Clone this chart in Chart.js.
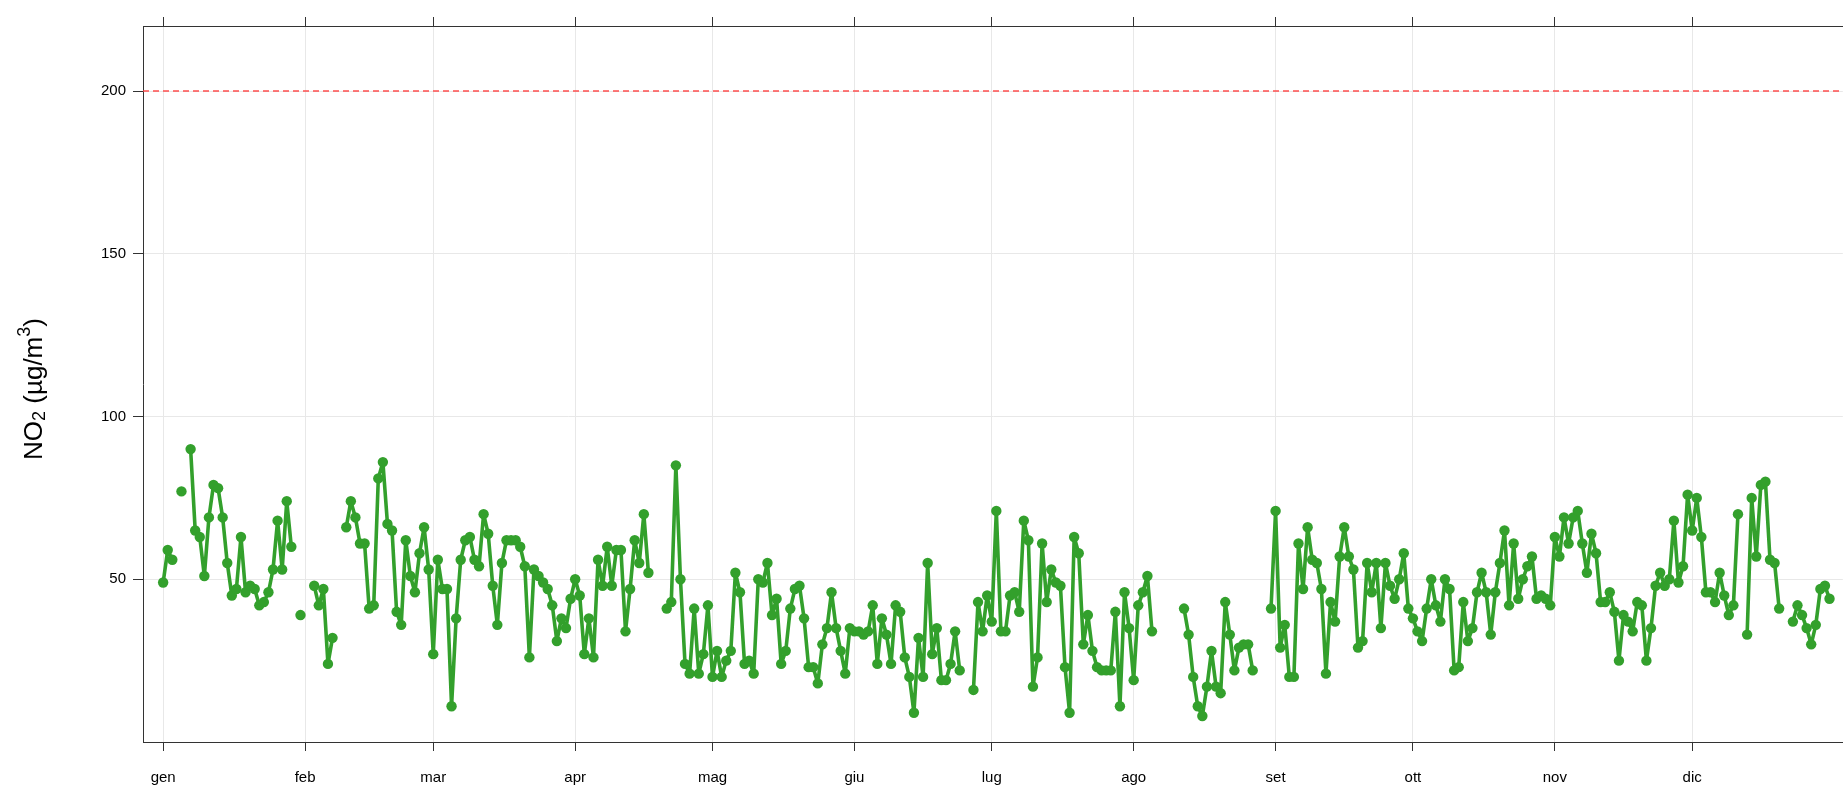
<!DOCTYPE html>
<html lang="it">
<head>
<meta charset="utf-8">
<title>NO2 giornaliero</title>
<script src="https://cdn.jsdelivr.net/npm/chart.js@4/dist/chart.umd.min.js"></script>
<style>
  html, body { margin: 0; padding: 0; background: #fff; }
  .chart-box { position: relative; width: 1848px; height: 792px; }
</style>
</head>
<body>
<div class="chart-box"><canvas id="no2Chart"></canvas></div>
<script>
// daily NO2 means, one array per month (null = missing day)
const gen = [49, 59, 56, null, 77, null, 90, 65, 63, 51, 69, 79, 78, 69, 55, 45, 47, 63, 46, 48, 47, 42, 43, 46, 53, 68, 53, 74, 60, null, 39];
const feb = [null, null, 48, 42, 47, 24, 32, null, null, 66, 74, 69, 61, 61, 41, 42, 81, 86, 67, 65, 40, 36, 62, 51, 46, 58, 66, 53];
const mar = [27, 56, 47, 47, 11, 38, 56, 62, 63, 56, 54, 70, 64, 48, 36, 55, 62, 62, 62, 60, 54, 26, 53, 51, 49, 47, 42, 31, 38, 35, 44];
const apr = [50, 45, 27, 38, 26, 56, 48, 60, 48, 59, 59, 34, 47, 62, 55, 70, 52, null, null, null, 41, 43, 85, 50, 24, 21, 41, 21, 27, 42];
const mag = [20, 28, 20, 25, 28, 52, 46, 24, 25, 21, 50, 49, 55, 39, 44, 24, 28, 41, 47, 48, 38, 23, 23, 18, 30, 35, 46, 35, 28, 21, 35];
const giu = [34, 34, 33, 34, 42, 24, 38, 33, 24, 42, 40, 26, 20, 9, 32, 20, 55, 27, 35, 19, 19, 24, 34, 22, null, null, 16, 43, 34, 45];
const lug = [37, 71, 34, 34, 45, 46, 40, 68, 62, 17, 26, 61, 43, 53, 49, 48, 23, 9, 63, 58, 30, 39, 28, 23, 22, 22, 22, 40, 11, 46, 35];
const ago = [19, 42, 46, 51, 34, null, null, null, null, null, null, 41, 33, 20, 11, 8, 17, 28, 17, 15, 43, 33, 22, 29, 30, 30, 22, null, null, null, 41];
const set = [71, 29, 36, 20, 20, 61, 47, 66, 56, 55, 47, 21, 43, 37, 57, 66, 57, 53, 29, 31, 55, 46, 55, 35, 55, 48, 44, 50, 58, 41];
const ott = [38, 34, 31, 41, 50, 42, 37, 50, 47, 22, 23, 43, 31, 35, 46, 52, 46, 33, 46, 55, 65, 42, 61, 44, 50, 54, 57, 44, 45, 44, 42];
const nov = [63, 57, 69, 61, 69, 71, 61, 52, 64, 58, 43, 43, 46, 40, 25, 39, 37, 34, 43, 42, 25, 35, 48, 52, 48, 50, 68, 49, 54, 76];
const dic = [65, 75, 63, 46, 46, 43, 52, 45, 39, 42, 70, null, 33, 75, 57, 79, 80, 56, 55, 41, null, null, 37, 42, 39, 35, 30, 36, 47, 48, 44];

const months = [gen, feb, mar, apr, mag, giu, lug, ago, set, ott, nov, dic];
const monthLabels = ["gen", "feb", "mar", "apr", "mag", "giu", "lug", "ago", "set", "ott", "nov", "dic"];
const yTicks = [50, 100, 150, 200];
const limitValue = 200;   // soglia oraria NO2

// y title pieces: [text, "base" | "sub" | "sup"]
const yTitleParts = [["NO", "base"], ["2", "sub"], [" (\u00b5g/m", "base"], ["3", "sup"], [")", "base"]];

// day index of first day of each month
const monthStarts = [];
let dayCount = 0;
months.forEach(m => { monthStarts.push(dayCount); dayCount += m.length; });

const points = [].concat(...months).map((v, i) => ({ x: i, y: v }));

const axisColor = "#333333";
const gridColor = "#e8e8e8";
const fontFamily = "'Liberation Sans', Arial, sans-serif";

const monthTicks = (scale) => {
  scale.ticks = monthStarts.map(v => ({ value: v }));
};

// red dashed limit line, placed through the y scale
const limitLine = {
  id: "limitLine",
  beforeDatasetsDraw(chart) {
    const { ctx, chartArea } = chart;
    const y = chart.scales.y.getPixelForValue(limitValue);
    ctx.save();
    ctx.strokeStyle = "rgba(255,60,60,0.9)";
    ctx.lineWidth = 1.5;
    ctx.setLineDash([6, 4]);
    ctx.beginPath();
    ctx.moveTo(chartArea.left, y);
    ctx.lineTo(chartArea.right, y);
    ctx.stroke();
    ctx.restore();
  }
};

// rotated y title with real subscript / superscript
const yTitle = {
  id: "yTitle",
  afterDraw(chart) {
    const { ctx, chartArea } = chart;
    const big = "26px " + fontFamily;
    const small = "18px " + fontFamily;
    ctx.save();
    let total = 0;
    yTitleParts.forEach(([t, k]) => {
      ctx.font = k === "base" ? big : small;
      total += ctx.measureText(t).width;
    });
    ctx.translate(35, (chartArea.top + chartArea.bottom) / 2 + 5);
    ctx.rotate(-Math.PI / 2);
    ctx.fillStyle = "#000";
    ctx.textBaseline = "middle";
    let x = -total / 2;
    yTitleParts.forEach(([t, k]) => {
      ctx.font = k === "base" ? big : small;
      const dy = k === "sub" ? 5 : (k === "sup" ? -10 : 0);
      ctx.fillText(t, x, dy);
      x += ctx.measureText(t).width;
    });
    ctx.restore();
  }
};

new Chart(document.getElementById("no2Chart"), {
  type: "line",
  data: {
    datasets: [{
      label: "NO2",
      data: points,
      borderColor: "#33a02c",
      backgroundColor: "#33a02c",
      borderWidth: 3.6,
      borderJoinStyle: "round",
      borderCapStyle: "round",
      pointRadius: 5.2,
      pointBorderWidth: 0,
      pointBackgroundColor: "#33a02c",
      tension: 0,
      spanGaps: false
    }]
  },
  options: {
    responsive: true,
    maintainAspectRatio: false,
    animation: false,
    layout: { padding: 0 },
    plugins: {
      legend: { display: false },
      tooltip: { enabled: false }
    },
    scales: {
      x: {
        type: "linear",
        position: "bottom",
        min: -4.4,
        max: 366.9,
        afterBuildTicks: monthTicks,
        afterFit: (s) => { s.height = 50; },
        ticks: {
          autoSkip: false,
          maxRotation: 0,
          padding: 18,
          color: "#000",
          font: { family: fontFamily, size: 15 },
          callback: (v) => monthLabels[monthStarts.indexOf(v)]
        },
        grid: { color: gridColor, tickColor: axisColor, tickLength: 9, lineWidth: 1 },
        border: { color: axisColor, width: 1 }
      },
      xTop: {
        type: "linear",
        position: "top",
        min: -4.4,
        max: 366.9,
        afterBuildTicks: monthTicks,
        afterFit: (s) => { s.height = 26; },
        ticks: { display: false },
        grid: { drawOnChartArea: false, tickColor: axisColor, tickLength: 9 },
        border: { color: axisColor, width: 1 }
      },
      y: {
        min: 0,
        max: 220,
        afterBuildTicks: (s) => { s.ticks = yTicks.map(v => ({ value: v })); },
        afterFit: (s) => { s.width = 143; },
        ticks: {
          padding: 7,
          color: "#000",
          font: { family: fontFamily, size: 15 }
        },
        grid: { color: gridColor, tickColor: axisColor, tickLength: 10, lineWidth: 1 },
        border: { color: axisColor, width: 1 }
      }
    }
  },
  plugins: [limitLine, yTitle]
});
</script>
</body>
</html>
